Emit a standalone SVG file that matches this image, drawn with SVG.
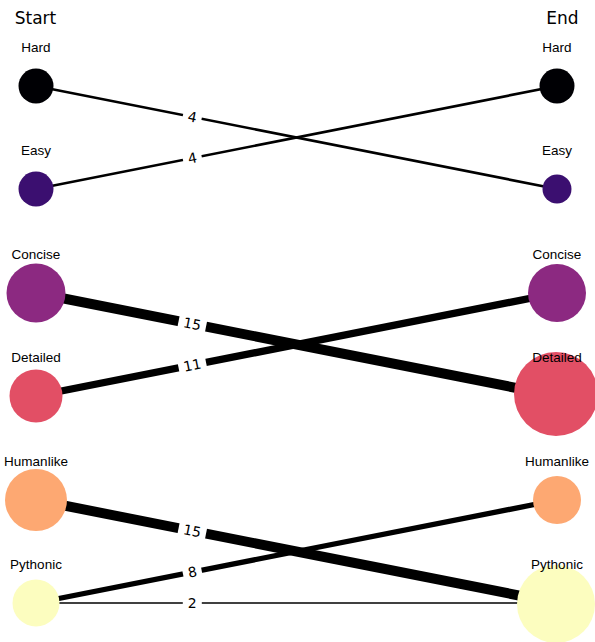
<svg xmlns="http://www.w3.org/2000/svg" width="595" height="642" viewBox="0 0 595 642">
<style>
.title{font-family:"DejaVu Sans",sans-serif;font-size:17px;fill:#000;text-anchor:middle}
.nl{font-family:"Liberation Sans",Arial,sans-serif;font-size:13.5px;fill:#000;text-anchor:middle}
.el{font-family:"DejaVu Sans",sans-serif;font-size:14px;fill:#000;text-anchor:middle;dominant-baseline:central}
.edge{stroke:#000;stroke-linecap:butt;fill:none}
.lb{fill:#fff}
</style>
<rect width="595" height="642" fill="#fff"/>
<text class="title" x="35.5" y="24">Start</text>
<text class="title" x="562.5" y="24">End</text>
<g id="connectors">
<line class="edge" x1="36" y1="86" x2="557" y2="189" stroke-width="2.67"/>
<line class="edge" x1="36" y1="189" x2="557" y2="86" stroke-width="2.67"/>
<line class="edge" x1="36" y1="293" x2="557" y2="396" stroke-width="10"/>
<line class="edge" x1="36" y1="396" x2="557" y2="293" stroke-width="7.33"/>
<line class="edge" x1="36" y1="500" x2="557" y2="603" stroke-width="10"/>
<line class="edge" x1="36" y1="603" x2="557" y2="500" stroke-width="5.33"/>
<line class="edge" x1="36" y1="603" x2="557" y2="603" stroke-width="1.33"/>
<g transform="translate(192.3,116.9) rotate(11.18)"><rect class="lb" x="-9.5" y="-10" width="19" height="20"/><text class="el" x="0" y="0">4</text></g>
<g transform="translate(192.3,158.1) rotate(-11.18)"><rect class="lb" x="-9.5" y="-10" width="19" height="20"/><text class="el" x="0" y="0">4</text></g>
<g transform="translate(192.3,323.9) rotate(11.18)"><rect class="lb" x="-14" y="-10" width="28" height="20"/><text class="el" x="0" y="0">15</text></g>
<g transform="translate(192.3,365.1) rotate(-11.18)"><rect class="lb" x="-14" y="-10" width="28" height="20"/><text class="el" x="0" y="0">11</text></g>
<g transform="translate(192.3,530.9) rotate(11.18)"><rect class="lb" x="-14" y="-10" width="28" height="20"/><text class="el" x="0" y="0">15</text></g>
<g transform="translate(192.3,572.1) rotate(-11.18)"><rect class="lb" x="-9.5" y="-10" width="19" height="20"/><text class="el" x="0" y="0">8</text></g>
<g transform="translate(192.3,603)"><rect class="lb" x="-9.5" y="-10" width="19" height="20"/><text class="el" x="0" y="0">2</text></g>
</g>
<g id="start-hard"><circle cx="36" cy="86" r="17.5" fill="#000004"/><text class="nl" x="36" y="52">Hard</text></g>
<g id="start-easy"><circle cx="36" cy="189" r="17.5" fill="#3b0f70"/><text class="nl" x="36" y="155">Easy</text></g>
<g id="start-concise"><circle cx="36" cy="293" r="29.5" fill="#8c2981"/><text class="nl" x="36" y="259">Concise</text></g>
<g id="start-detailed"><circle cx="36" cy="396" r="26.5" fill="#e24f65"/><text class="nl" x="36" y="362">Detailed</text></g>
<g id="start-humanlike"><circle cx="36" cy="500" r="31" fill="#fda872"/><text class="nl" x="36" y="466">Humanlike</text></g>
<g id="start-pythonic"><circle cx="36" cy="603" r="23.5" fill="#fcfdbf"/><text class="nl" x="36" y="569">Pythonic</text></g>
<g id="end-hard"><circle cx="557" cy="86" r="17.5" fill="#000004"/><text class="nl" x="557" y="52">Hard</text></g>
<g id="end-easy"><circle cx="557" cy="189" r="14.5" fill="#3b0f70"/><text class="nl" x="557" y="155">Easy</text></g>
<g id="end-concise"><circle cx="557" cy="293" r="29" fill="#8c2981"/><text class="nl" x="557" y="259">Concise</text></g>
<g id="end-detailed"><circle cx="556" cy="394" r="42" fill="#e24f65"/><text class="nl" x="557" y="362">Detailed</text></g>
<g id="end-humanlike"><circle cx="557" cy="500" r="24" fill="#fda872"/><text class="nl" x="557" y="466">Humanlike</text></g>
<g id="end-pythonic"><circle cx="556" cy="604" r="39" fill="#fcfdbf"/><text class="nl" x="557" y="569">Pythonic</text></g>
</svg>
